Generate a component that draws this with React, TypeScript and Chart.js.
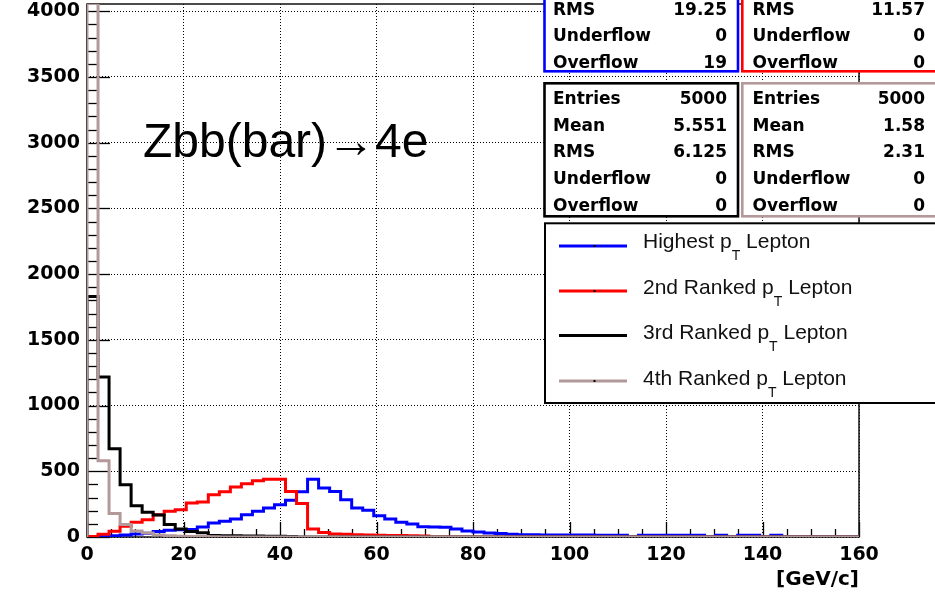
import React, { useEffect, useRef } from "react";
import { Chart, registerables } from "chart.js";

Chart.register(...registerables);

// ---------------- data ----------------
const X_MIN = 0;
const X_MAX = 160;
const Y_MAX = 4055;
const xTicks = [0, 20, 40, 60, 80, 100, 120, 140, 160];
const yTicks = [0, 500, 1000, 1500, 2000, 2500, 3000, 3500, 4000];

// 70 bins of 160/70 GeV/c
const highestPt = [
  0, 5, 10, 15, 22, 28, 42, 52, 56, 58,
  76, 106, 119, 137, 170, 195, 220, 246, 280, 345,
  440, 373, 347, 284, 220, 203, 162, 137, 112, 98,
  78, 76, 74, 60, 45, 38, 30, 27, 20, 18,
  17, 16, 16, 15, 15, 15, 14, 14, 14, 0,
  14, 14, 13, 13, 13, 13, 0, 13, 0, 13,
  13, 0, 13, 0, 0, 0, 0, 0, 0, 0,
];
const secondPt = [
  3, 20, 43, 81, 112, 132, 170, 195, 208, 258,
  267, 322, 345, 380, 405, 428, 440, 440, 347, 255,
  60, 35, 23, 20, 18, 15, 14, 12, 12, 10,
  8, 0, 0, 0, 0, 0, 0, 0, 0, 0,
  0, 0, 0, 0, 0, 0, 0, 0, 0, 0,
  0, 0, 0, 0, 0, 0, 0, 0, 0, 0,
  0, 0, 0, 0, 0, 0, 0, 0, 0, 0,
];
const thirdPt = [
  1830, 1217, 672, 398, 238, 188, 167, 96, 61, 42,
  32, 12, 10, 10, 8, 8, 6, 5, 3, 0,
  0, 0, 0, 0, 0, 0, 0, 0, 0, 0,
  0, 0, 0, 0, 0, 0, 0, 0, 0, 0,
  0, 0, 0, 0, 0, 0, 0, 0, 0, 0,
  0, 0, 0, 0, 0, 0, 0, 0, 0, 0,
  0, 0, 0, 0, 0, 0, 0, 0, 0, 0,
];
const fourthPt = [
  4058, 580, 178, 95, 45, 30, 15, 10, 6, 4,
  3, 2, 0, 0, 0, 0, 0, 0, 0, 0,
  0, 0, 0, 0, 0, 0, 0, 0, 0, 0,
  0, 0, 0, 0, 0, 0, 0, 0, 0, 0,
  0, 0, 0, 0, 0, 0, 0, 0, 0, 0,
  0, 0, 0, 0, 0, 0, 0, 0, 0, 0,
  0, 0, 0, 0, 0, 0, 0, 0, 0, 0,
];

const seriesLabels = [
  "Highest p_T Lepton",
  "2nd Ranked p_T Lepton",
  "3rd Ranked p_T Lepton",
  "4th Ranked p_T Lepton",
];

const statsHighest = [["RMS", "19.25"], ["Underflow", "0"], ["Overflow", "19"]];
const statsSecond = [["RMS", "11.57"], ["Underflow", "0"], ["Overflow", "0"]];
const statsThird = [["Entries", "5000"], ["Mean", "5.551"], ["RMS", "6.125"], ["Underflow", "0"], ["Overflow", "0"]];
const statsFourth = [["Entries", "5000"], ["Mean", "1.58"], ["RMS", "2.31"], ["Underflow", "0"], ["Overflow", "0"]];

const annotationText = "Zbb(bar)\u21924e";
const xTitle = "[GeV/c]";

// ---------------- styles ----------------
const BLUE = "#0000ff";
const RED = "#ff0000";
const BLACK = "#000000";
const PINK = "#b4999b";
const COLORS = [BLUE, RED, BLACK, PINK];
const BOLD = "DejaVu Sans";
const REG = "Liberation Sans";

function stepPoints(counts: number[]) {
  const w = (X_MAX - X_MIN) / counts.length;
  const pts: { x: number; y: number }[] = [{ x: X_MIN, y: 0 }];
  counts.forEach((c, i) => pts.push({ x: X_MIN + i * w, y: c }));
  pts.push({ x: X_MAX, y: counts[counts.length - 1] });
  pts.push({ x: X_MAX, y: 0 });
  return pts;
}

const rootPlugin = {
  id: "rootDecor",
  beforeDatasetsDraw(chart: any) {
    const ctx = chart.ctx;
    const xs = chart.scales.x;
    const ys = chart.scales.y;
    const { left, right, top, bottom } = chart.chartArea;
    ctx.save();
    ctx.strokeStyle = "#000";
    ctx.lineWidth = 1.3;
    for (let v = X_MIN; v <= X_MAX; v += 5) {
      const px = Math.round(xs.getPixelForValue(v)) + 0.5;
      const len = v % 20 === 0 ? 15 : 8;
      ctx.beginPath();
      ctx.moveTo(px, bottom);
      ctx.lineTo(px, bottom - len);
      ctx.stroke();
    }
    for (let v = 0; v <= Y_MAX; v += 100) {
      const py = Math.round(ys.getPixelForValue(v)) + 0.5;
      const len = v % 500 === 0 ? 23 : 11;
      ctx.beginPath();
      ctx.moveTo(left, py);
      ctx.lineTo(left + len, py);
      ctx.stroke();
    }
    ctx.lineWidth = 1.5;
    ctx.strokeStyle = "#111";
    ctx.strokeRect(left, top, right - left, bottom - top);
    ctx.restore();
  },
  afterDraw(chart: any) {
    const ctx = chart.ctx;
    ctx.save();

    ctx.fillStyle = "#000";
    ctx.font = `48px "${REG}"`;
    ctx.textAlign = "left";
    ctx.textBaseline = "alphabetic";
    ctx.fillText(annotationText, 143, 157);

    const boxes = [
      { color: BLUE, x0: 544.5, x1: 738, y0: -10, y1: 71.3, rows: statsHighest, base: 14.5, lx: 553, rx: 727 },
      { color: RED, x0: 742.3, x1: 950, y0: -10, y1: 71.3, rows: statsSecond, base: 14.5, lx: 752.5, rx: 925 },
      { color: BLACK, x0: 544.5, x1: 738, y0: 83.3, y1: 216.3, rows: statsThird, base: 104, lx: 553, rx: 727 },
      { color: PINK, x0: 742.3, x1: 950, y0: 83.3, y1: 216.3, rows: statsFourth, base: 104, lx: 752.5, rx: 925 },
    ];
    boxes.forEach((b) => {
      ctx.fillStyle = "#fff";
      ctx.fillRect(b.x0, b.y0, b.x1 - b.x0, b.y1 - b.y0);
      ctx.strokeStyle = b.color;
      ctx.lineWidth = 2.6;
      ctx.strokeRect(b.x0, b.y0, b.x1 - b.x0, b.y1 - b.y0);
      ctx.fillStyle = "#000";
      ctx.font = `bold 17px "${BOLD}"`;
      b.rows.forEach((r, i) => {
        const y = b.base + i * 26.7;
        ctx.textAlign = "left";
        ctx.fillText(r[0], b.lx, y);
        ctx.textAlign = "right";
        ctx.fillText(r[1], b.rx, y);
      });
    });

    const lg = { x0: 545, y0: 223.3, x1: 950, y1: 403 };
    ctx.fillStyle = "#fff";
    ctx.fillRect(lg.x0, lg.y0, lg.x1 - lg.x0, lg.y1 - lg.y0);
    ctx.strokeStyle = "#000";
    ctx.lineWidth = 2;
    ctx.strokeRect(lg.x0, lg.y0, lg.x1 - lg.x0, lg.y1 - lg.y0);
    const lineYs = [246, 291, 335.5, 381];
    const textBase = [248, 294, 339, 385];
    seriesLabels.forEach((label, i) => {
      ctx.strokeStyle = COLORS[i];
      ctx.lineWidth = 3;
      ctx.beginPath();
      ctx.moveTo(559, lineYs[i]);
      ctx.lineTo(627, lineYs[i]);
      ctx.stroke();
      ctx.fillStyle = "#000";
      ctx.fillRect(593.5, lineYs[i] - 1, 2, 2);
      const [main, rest] = label.split("_T");
      ctx.fillStyle = "#111";
      ctx.textAlign = "left";
      ctx.font = `21px "${REG}"`;
      let x = 643;
      ctx.fillText(main, x, textBase[i]);
      x += ctx.measureText(main).width;
      ctx.font = `14px "${REG}"`;
      ctx.fillText("T", x, textBase[i] + 12);
      x += ctx.measureText("T").width;
      ctx.font = `21px "${REG}"`;
      ctx.fillText(rest, x, textBase[i]);
    });

    ctx.restore();
  },
};

export default function App() {
  const canvasRef = useRef<HTMLCanvasElement | null>(null);

  useEffect(() => {
    const canvas = canvasRef.current;
    if (!canvas) return;
    const series = [highestPt, secondPt, thirdPt, fourthPt];
    const orders = [4, 3, 2, 1];
    const chart = new Chart(canvas, {
      type: "line",
      data: {
        datasets: series.map((s, i) => ({
          label: seriesLabels[i],
          data: stepPoints(s),
          borderColor: COLORS[i],
          backgroundColor: COLORS[i],
          borderWidth: 3,
          pointRadius: 0,
          pointHoverRadius: 0,
          stepped: "before" as const,
          fill: false,
          tension: 0,
          order: orders[i],
        })),
      },
      options: {
        responsive: false,
        animation: false,
        devicePixelRatio: 1,
        events: [],
        layout: { padding: { top: 4, right: 76, left: 0, bottom: 0 } },
        plugins: { legend: { display: false }, tooltip: { enabled: false } },
        scales: {
          x: {
            type: "linear",
            min: X_MIN,
            max: X_MAX,
            afterBuildTicks: (s: any) => {
              s.ticks = xTicks.map((v) => ({ value: v }));
            },
            ticks: {
              autoSkip: false,
              maxRotation: 0,
              padding: 7,
              color: "#000",
              font: { family: BOLD, weight: "bold", size: 19 },
              callback: (v: any) => String(v),
            },
            grid: { color: "#000", lineWidth: 1, drawTicks: false },
            border: { display: false, dash: [1, 2] },
            title: {
              display: true,
              text: xTitle,
              align: "end",
              color: "#000",
              font: { family: BOLD, weight: "bold", size: 20 },
              padding: { top: 0, bottom: 2 },
            },
            afterFit: (s: any) => {
              s.height = 57;
              s.paddingLeft = 0;
              s.paddingRight = 0;
            },
          },
          y: {
            type: "linear",
            min: 0,
            max: Y_MAX,
            afterBuildTicks: (s: any) => {
              s.ticks = yTicks.map((v) => ({ value: v }));
            },
            ticks: {
              autoSkip: false,
              padding: 7,
              color: "#000",
              font: { family: BOLD, weight: "bold", size: 19 },
              callback: (v: any) => String(v),
            },
            grid: { color: "#000", lineWidth: 1, drawTicks: false },
            border: { display: false, dash: [1, 2] },
            afterFit: (s: any) => {
              s.width = 87;
              s.paddingTop = 0;
              s.paddingBottom = 0;
            },
          },
        },
      } as any,
      plugins: [rootPlugin],
    });
    return () => chart.destroy();
  }, []);

  return (
    <div style={{ position: "fixed", left: 0, top: 0, width: 935, height: 594, background: "#fff", overflow: "hidden" }}>
      <canvas ref={canvasRef} width={935} height={594} style={{ display: "block" }} />
    </div>
  );
}
